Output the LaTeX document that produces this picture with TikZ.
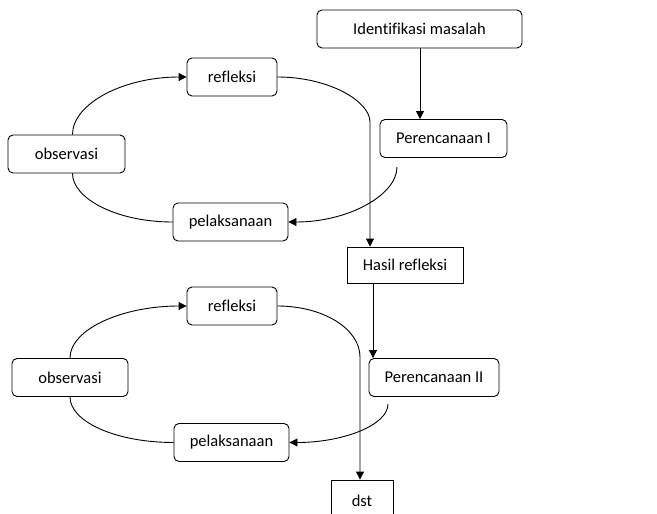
\documentclass[tikz,border=0pt]{standalone}
\usepackage{fontspec}
\setmainfont{Carlito}[Ligatures=NoCommon]
\usetikzlibrary{arrows.meta}

\begin{document}
\begin{tikzpicture}[ x=1pt, y=-1pt, >={Triangle[length=8pt,width=8pt]},
        stage/.style={ draw, rounded corners=5pt, minimum height=38pt,
          inner sep=0pt, line width=0.9pt, font=\fontsize{16.5}{18}\selectfont },
        result/.style={ stage, rounded corners=0pt },
        flow/.style={ ->, line width=0.9pt },
        loop/.style={ line width=0.9pt } ]
        \useasboundingbox (0,0) rectangle (657,514);

        \foreach \n/\x/\y/\w/\l in {ident/419.5/29/205/Identifikasi masalah,
          ref1/232/77/90/refleksi, obs1/66.5/154/117/observasi,
          ren1/443.5/138.5/127/Perencanaan I, pel1/230.5/222/115/pelaksanaan,
          ref2/232/306/90/refleksi, obs2/70/377.5/116/observasi,
          ren2/434/377.5/130/Perencanaan II, pel2/231.5/442.5/115/pelaksanaan}
        \node[stage,minimum width=\w pt] (\n) at (\x,\y) {\l};

        \node[result,minimum width=116pt,minimum height=36pt] (hasil) at (405,265) {Hasil refleksi};
        \node[result,minimum width=62pt,minimum height=42pt] (dst) at (362,501) {dst};

        \coordinate (d1) at (370,122); \coordinate (d2) at (360,357);
        \coordinate (s1) at (397,167); \coordinate (s2) at (388,404);

        % first cycle
        \draw[flow] (ident.south -| 420,0) -- (ren1.north -| 420,0);
        \draw[flow] ([xshift=6pt]obs1.north) .. controls +(0,-31) and +(-63,0) .. (ref1.west);
        \draw[flow] (ref1.east) .. controls +(51,0) and +(0,-21) .. (d1) -- (d1 |- hasil.north);
        \draw[flow] (s1) .. controls +(0,28) and +(60,0) .. (pel1.east);
        \draw[loop] (pel1.west) .. controls +(-56,0) and +(0,25) .. ([xshift=6pt]obs1.south);

        % second cycle
        \draw[flow] (hasil.south -| 373,0) -- (ren2.north -| 373,0);
        \draw[flow] (obs2.north) .. controls +(0,-29) and +(-64,0) .. (ref2.west);
        \draw[flow] (ref2.east) .. controls +(46,0) and +(0,-28) .. (d2) -- (d2 |- dst.north);
        \draw[flow] (s2) .. controls +(0,21) and +(54,0) .. (pel2.east);
        \draw[loop] (pel2.west) .. controls +(-57,0) and +(0,25) .. (obs2.south);
      \end{tikzpicture}
\end{document}
